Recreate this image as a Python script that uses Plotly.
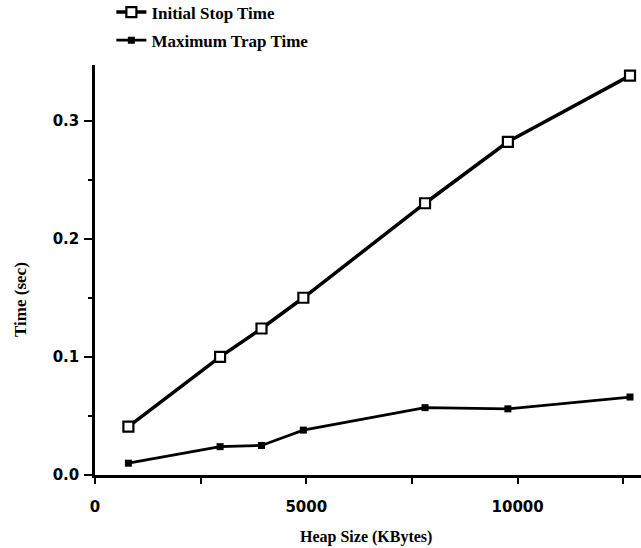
import plotly.graph_objects as go

heap_kb = [790, 2960, 3940, 4930, 7810, 9770, 12660]
initial_stop = [0.041, 0.100, 0.124, 0.150, 0.230, 0.282, 0.338]
max_trap = [0.010, 0.024, 0.025, 0.038, 0.057, 0.056, 0.066]

x_major = [0, 5000, 10000]
x_minor = [2500, 7500, 12500]
y_major = [0.0, 0.1, 0.2, 0.3]
y_minor = [0.05, 0.15, 0.25]
y_labels = ["0.0", "0.1", "0.2", "0.3"]

fig = go.Figure()
fig.add_trace(go.Scatter(
    x=heap_kb, y=initial_stop, name="Initial Stop Time",
    mode="lines+markers", legendgroup="a",
    line=dict(color="black", width=3.5),
    marker=dict(symbol="square", size=10, color="white",
                line=dict(color="black", width=2.2)),
))
fig.add_trace(go.Scatter(
    x=heap_kb, y=max_trap, name="Maximum Trap Time",
    mode="lines+markers", legendgroup="b",
    line=dict(color="black", width=2.8),
    marker=dict(symbol="square", size=7, color="black"),
))

tick_font = dict(family="DejaVu Sans", size=15, color="black", weight="bold")
title_font = dict(family="Liberation Serif", size=16, color="black", weight="bold")

fig.update_layout(
    width=641, height=548,
    margin=dict(l=95, r=0, t=65, b=73, autoexpand=False),
    paper_bgcolor="white", plot_bgcolor="white",
    showlegend=True,
    legend=dict(
        x=0.03, y=1.172, xanchor="left", yanchor="top",
        font=dict(family="Liberation Serif", size=17, color="black", weight="bold"),
        bgcolor="rgba(0,0,0,0)", itemwidth=30,
        traceorder="grouped", tracegroupgap=3,
    ),
    xaxis=dict(
        range=[0, 12920], showgrid=False, zeroline=False,
        showline=True, linecolor="black", linewidth=2.5,
        ticks="outside", ticklen=6, tickwidth=2, tickcolor="black",
        tickvals=x_major, ticktext=[str(v) for v in x_major],
        tickfont=tick_font, ticklabelstandoff=10,
        minor=dict(tickvals=x_minor, ticks="outside", ticklen=6,
                   tickwidth=2, tickcolor="black"),
    ),
    yaxis=dict(
        range=[0, 0.347], showgrid=False, zeroline=False,
        showline=True, linecolor="black", linewidth=2.5,
        ticks="outside", ticklen=8, tickwidth=2, tickcolor="black",
        tickvals=y_major, ticktext=y_labels,
        tickfont=tick_font, ticklabelstandoff=2,
        minor=dict(tickvals=y_minor, ticks="outside", ticklen=4,
                   tickwidth=2, tickcolor="black"),
    ),
    annotations=[
        dict(text="Heap Size (KBytes)", xref="paper", yref="paper",
             x=0.496, y=-0.151, xanchor="center", yanchor="middle",
             showarrow=False, font=title_font),
        dict(text="Time (sec)", xref="paper", yref="paper",
             x=-0.1355, y=0.427, xanchor="center", yanchor="middle",
             textangle=-90, showarrow=False,
             font=dict(family="Liberation Serif", size=17, color="black", weight="bold")),
    ],
)

fig.write_html("out.html")
